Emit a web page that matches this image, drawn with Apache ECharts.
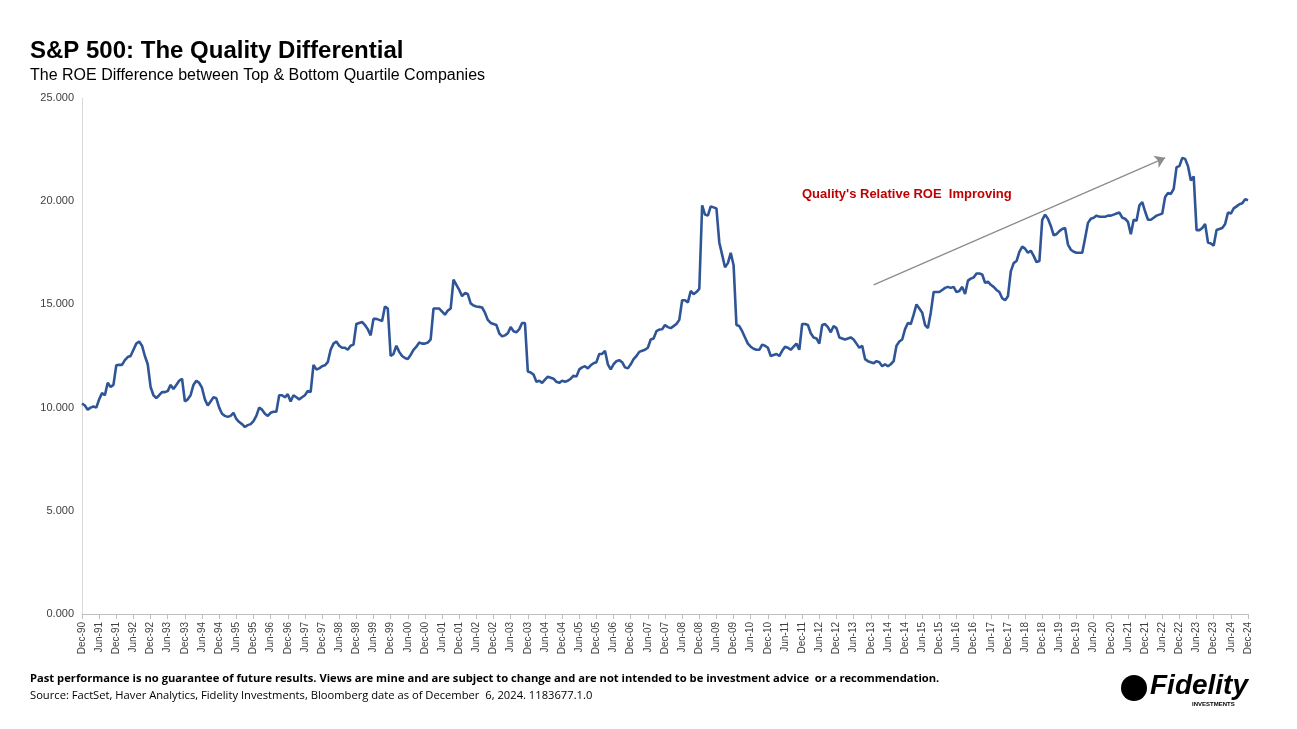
<!DOCTYPE html>
<html>
<head>
<meta charset="utf-8">
<script src="https://cdn.jsdelivr.net/npm/echarts@6/dist/echarts.min.js"></script>
<style>
  html, body { margin: 0; padding: 0; background: #fff; }
  #chart { width: 1297px; height: 729px; }
</style>
</head>
<body>
<div id="chart"></div>
<script>
// monthly ROE difference, Dec-90 .. Dec-24
var roeDiff = [
  10.2, 10.1, 9.9, 10.0, 10.05, 10.0, 10.4, 10.7, 10.6, 11.2, 11.0, 11.1,
  12.05, 12.07, 12.07, 12.3, 12.45, 12.5, 12.8, 13.1, 13.2, 13.0, 12.5, 12.1,
  11.0, 10.6, 10.46, 10.6, 10.75, 10.75, 10.8, 11.1, 10.9, 11.1, 11.3, 11.4,
  10.3, 10.4, 10.6, 11.1, 11.3, 11.2, 10.95, 10.4, 10.1, 10.3, 10.5, 10.45,
  10.0, 9.7, 9.6, 9.55, 9.6, 9.75, 9.45, 9.3, 9.2, 9.06, 9.15, 9.2,
  9.35, 9.6, 10.0, 9.9, 9.7, 9.6, 9.75, 9.8, 9.8, 10.6, 10.6, 10.5,
  10.65, 10.3, 10.6, 10.5, 10.4, 10.5, 10.6, 10.8, 10.75, 12.07, 11.85, 11.9,
  12.0, 12.05, 12.2, 12.8, 13.1, 13.2, 13.0, 12.9, 12.9, 12.8, 13.0, 13.05,
  14.05, 14.1, 14.15, 14.0, 13.8, 13.5, 14.3, 14.3, 14.25, 14.2, 14.9, 14.8,
  12.5, 12.6, 13.0, 12.7, 12.5, 12.4, 12.35, 12.55, 12.8, 12.95, 13.15, 13.1,
  13.1, 13.15, 13.3, 14.8, 14.8, 14.8, 14.65, 14.5, 14.7, 14.8, 16.2, 15.95,
  15.7, 15.4, 15.55, 15.5, 15.05, 14.95, 14.9, 14.88, 14.85, 14.6, 14.25, 14.1,
  14.05, 14.0, 13.6, 13.45, 13.5, 13.6, 13.9, 13.7, 13.65, 13.8, 14.1, 14.1,
  11.75, 11.7, 11.6, 11.25, 11.3, 11.2, 11.35, 11.5, 11.45, 11.4, 11.25, 11.2,
  11.3, 11.25, 11.3, 11.4, 11.55, 11.5, 11.85, 11.95, 12.0, 11.9, 12.05, 12.15,
  12.2, 12.6, 12.6, 12.75, 12.1, 11.85, 12.1, 12.25, 12.3, 12.2, 11.95, 11.9,
  12.1, 12.35, 12.5, 12.7, 12.75, 12.8, 12.9, 13.3, 13.35, 13.7, 13.78, 13.8,
  14.0, 13.9, 13.85, 13.95, 14.05, 14.25, 15.2, 15.2, 15.1, 15.65, 15.5, 15.6,
  15.75, 19.8, 19.35, 19.3, 19.75, 19.7, 19.65, 18.0, 17.4, 16.8, 17.0, 17.5,
  16.9, 14.0, 13.95, 13.7, 13.4, 13.1, 12.95, 12.85, 12.8, 12.8, 13.05, 13.0,
  12.9, 12.5, 12.55, 12.6, 12.5, 12.75, 12.95, 12.9, 12.8, 12.95, 13.1, 12.8,
  14.05, 14.05, 14.0, 13.6, 13.4, 13.35, 13.1, 14.0, 14.05, 13.9, 13.65, 13.95,
  13.85, 13.4, 13.35, 13.3, 13.35, 13.4, 13.3, 13.1, 12.9, 13.0, 12.35, 12.25,
  12.2, 12.15, 12.25, 12.2, 12.0, 12.1, 12.0, 12.1, 12.25, 13.0, 13.2, 13.3,
  13.8, 14.1, 14.05, 14.5, 15.0, 14.8, 14.6, 14.0, 13.85, 14.6, 15.6, 15.6,
  15.6, 15.7, 15.8, 15.85, 15.8, 15.85, 15.6, 15.65, 15.85, 15.5, 16.15, 16.25,
  16.3, 16.5, 16.5, 16.45, 16.05, 16.1, 15.95, 15.85, 15.7, 15.6, 15.3, 15.2,
  15.4, 16.6, 17.0, 17.1, 17.55, 17.8, 17.7, 17.5, 17.6, 17.35, 17.05, 17.1,
  19.1, 19.35, 19.15, 18.8, 18.35, 18.4, 18.55, 18.65, 18.7, 17.9, 17.65, 17.55,
  17.5, 17.5, 17.5, 18.2, 18.95, 19.15, 19.2, 19.3, 19.25, 19.25, 19.25, 19.3,
  19.3, 19.35, 19.4, 19.45, 19.2, 19.15, 19.0, 18.4, 19.1, 19.05, 19.8, 19.95,
  19.5, 19.1, 19.1, 19.2, 19.3, 19.35, 19.4, 20.2, 20.4, 20.35, 20.6, 21.65,
  21.7, 22.1, 22.05, 21.7, 21.0, 21.2, 18.6, 18.6, 18.7, 18.9, 18.0, 17.95,
  17.85, 18.6, 18.65, 18.7, 18.9, 19.45, 19.4, 19.65, 19.75, 19.85, 19.9, 20.1,
  20.05
];

var monthNames = ['Jan', 'Feb', 'Mar', 'Apr', 'May', 'Jun', 'Jul', 'Aug', 'Sep', 'Oct', 'Nov', 'Dec'];
var startYear = 1990, startMonth = 11; // Dec-90
var months = roeDiff.map(function (v, i) {
    var mi = startMonth + i;
    var yr = startYear + Math.floor(mi / 12);
    return monthNames[mi % 12] + '-' + String(yr % 100).padStart(2, '0');
});

// trend arrow endpoints (category index, value)
var trendFrom = [277, 15.95];
var trendTo = [379, 22.1];

var chart = echarts.init(document.getElementById('chart'));
var option = {
    backgroundColor: '#fff',
    animation: false,
    grid: { left: 82, right: 49, top: 98, bottom: 115 },
    xAxis: {
        type: 'category',
        data: months,
        boundaryGap: false,
        axisLine: { lineStyle: { color: '#bfbfbf' } },
        axisTick: { show: true, interval: 5, lineStyle: { color: '#bfbfbf' } },
        axisLabel: {
            interval: 5,
            rotate: 90,
            color: '#404040',
            fontSize: 10,
            fontFamily: 'Liberation Sans'
        },
        splitLine: { show: false }
    },
    yAxis: {
        type: 'value',
        min: 0,
        max: 25,
        interval: 5,
        axisLine: { show: true, lineStyle: { color: '#d9d9d9' } },
        axisTick: { show: false },
        splitLine: { show: false },
        axisLabel: {
            color: '#404040',
            fontSize: 11,
            fontFamily: 'Liberation Sans',
            formatter: function (v) { return v.toFixed(3); }
        }
    },
    series: [{
        type: 'line',
        data: roeDiff,
        symbol: 'none',
        lineStyle: { color: '#2f5597', width: 2.6 },
        markLine: {
            silent: true,
            symbol: ['none', 'arrow'],
            symbolSize: 10,
            label: { show: false },
            lineStyle: { color: '#8c8c8c', width: 1.3, type: 'solid' },
            data: [[{ coord: trendFrom }, { coord: trendTo }]]
        }
    }],
    graphic: [
        { type: 'text', left: 30, top: 39, style: { text: 'S&P 500: The Quality Differential', font: 'bold 24px "Liberation Sans"', fill: '#000' } },
        { type: 'text', left: 30, top: 68, style: { text: 'The ROE Difference between Top & Bottom Quartile Companies', font: '16px "Liberation Sans"', fill: '#000' } },
        { type: 'text', left: 802, top: 188, style: { text: "Quality's Relative ROE  Improving", font: 'bold 13px "Liberation Sans"', fill: '#c00000' } },
        { type: 'text', left: 30, top: 673, style: { text: 'Past performance is no guarantee of future results. Views are mine and are subject to change and are not intended to be investment advice  or a recommendation.', font: 'bold 11.2px "Open Sans"', fill: '#000' } },
        { type: 'text', left: 30, top: 690, style: { text: 'Source: FactSet, Haver Analytics, Fidelity Investments, Bloomberg date as of December  6, 2024. 1183677.1.0', font: '11.2px "Open Sans"', fill: '#000' } },
        { type: 'circle', shape: { cx: 1134, cy: 688, r: 13 }, style: { fill: '#000' } },
        { type: 'text', left: 1150, top: 672, style: { text: 'Fidelity', font: 'italic bold 28px "Liberation Sans"', fill: '#000' } },
        { type: 'text', left: 1192, top: 701, style: { text: 'INVESTMENTS', font: 'bold 6px "Liberation Sans"', fill: '#000' } }
    ]
};
chart.setOption(option);
</script>
</body>
</html>
